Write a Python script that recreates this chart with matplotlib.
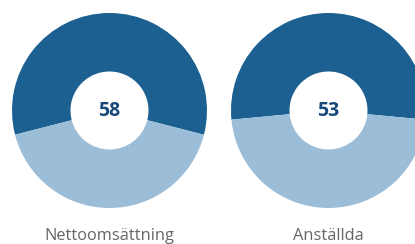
import matplotlib
matplotlib.use("Agg")
import matplotlib.pyplot as plt

# share of group (percent) for each measure
labels = ["Nettoomsättning", "Anställda"]
shares = [58, 53]

dark = "#1c5f91"
light = "#9bbdd8"
text_dark = "#17487a"
text_grey = "#666666"

W, H = 415, 244
fig = plt.figure(figsize=(W / 100, H / 100), dpi=100)

centers_x = [109.5, 328.5]
center_y = 110.5
R = 97.5

for i in range(len(shares)):
    cx = centers_x[i]
    ax = fig.add_axes([(cx - R) / W, (H - center_y - R) / H, 2 * R / W, 2 * R / H])
    v = shares[i]
    ax.pie([v, 100 - v], colors=[dark, light], startangle=90 - v * 1.8,
           radius=1, wedgeprops=dict(width=0.6, linewidth=0))
    ax.set_xlim(-1, 1)
    ax.set_ylim(-1, 1)
    ax.set_aspect("equal")
    ax.axis("off")
    ax.text(0, 0, str(v), ha="center", va="center", fontsize=14,
            fontweight="bold", color=text_dark, family="Open Sans")
    fig.text(cx / W, 1 - 235.5 / H, labels[i], ha="center", va="center",
             fontsize=11.8, color=text_grey, family="Open Sans")

fig.savefig("out.png", dpi=100)
